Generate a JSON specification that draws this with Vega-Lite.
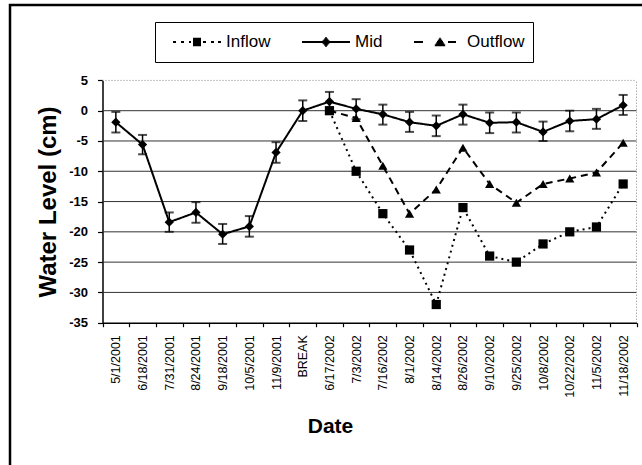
{
  "$schema": "https://vega.github.io/schema/vega-lite/v6.json",
  "width": 640,
  "height": 470,
  "autosize": "none",
  "padding": {"left": 10, "top": 5, "right": 0, "bottom": 0},
  "background": "white",
  "config": {
    "font": "Liberation Sans",
    "view": {"stroke": "black", "strokeWidth": 2.5},
    "axis": {"grid": false}
  },
  "datasets": {
    "main": [
      {"date": "5/1/2001", "series": "Mid", "value": -1.9, "lo": -3.6, "hi": -0.2},
      {"date": "6/18/2001", "series": "Mid", "value": -5.6, "lo": -7.2, "hi": -4.0},
      {"date": "7/31/2001", "series": "Mid", "value": -18.4, "lo": -20.0, "hi": -16.8},
      {"date": "8/24/2001", "series": "Mid", "value": -16.8, "lo": -18.5, "hi": -15.1},
      {"date": "9/18/2001", "series": "Mid", "value": -20.4, "lo": -22.0, "hi": -18.7},
      {"date": "10/5/2001", "series": "Mid", "value": -19.1, "lo": -20.8, "hi": -17.4},
      {"date": "11/9/2001", "series": "Mid", "value": -6.9, "lo": -8.6, "hi": -5.2},
      {"date": "BREAK", "series": "Mid", "value": 0, "lo": -1.7, "hi": 1.7},
      {"date": "6/17/2002", "series": "Mid", "value": 1.5, "lo": -0.2, "hi": 3.1},
      {"date": "7/3/2002", "series": "Mid", "value": 0.3, "lo": -1.4, "hi": 1.9},
      {"date": "7/16/2002", "series": "Mid", "value": -0.6, "lo": -2.3, "hi": 1.0},
      {"date": "8/1/2002", "series": "Mid", "value": -1.9, "lo": -3.5, "hi": -0.2},
      {"date": "8/14/2002", "series": "Mid", "value": -2.5, "lo": -4.2, "hi": -0.8},
      {"date": "8/26/2002", "series": "Mid", "value": -0.6, "lo": -2.3, "hi": 1.0},
      {"date": "9/10/2002", "series": "Mid", "value": -2.0, "lo": -3.7, "hi": -0.3},
      {"date": "9/25/2002", "series": "Mid", "value": -1.9, "lo": -3.6, "hi": -0.3},
      {"date": "10/8/2002", "series": "Mid", "value": -3.5, "lo": -5.0, "hi": -1.8},
      {"date": "10/22/2002", "series": "Mid", "value": -1.7, "lo": -3.4, "hi": 0.0},
      {"date": "11/5/2002", "series": "Mid", "value": -1.4, "lo": -3.0, "hi": 0.3},
      {"date": "11/18/2002", "series": "Mid", "value": 0.9, "lo": -0.7, "hi": 2.6},
      {"date": "6/17/2002", "series": "Inflow", "value": 0},
      {"date": "7/3/2002", "series": "Inflow", "value": -10},
      {"date": "7/16/2002", "series": "Inflow", "value": -17},
      {"date": "8/1/2002", "series": "Inflow", "value": -23},
      {"date": "8/14/2002", "series": "Inflow", "value": -32},
      {"date": "8/26/2002", "series": "Inflow", "value": -16},
      {"date": "9/10/2002", "series": "Inflow", "value": -24},
      {"date": "9/25/2002", "series": "Inflow", "value": -25},
      {"date": "10/8/2002", "series": "Inflow", "value": -22},
      {"date": "10/22/2002", "series": "Inflow", "value": -20},
      {"date": "11/5/2002", "series": "Inflow", "value": -19.2},
      {"date": "11/18/2002", "series": "Inflow", "value": -12.1},
      {"date": "6/17/2002", "series": "Outflow", "value": 0},
      {"date": "7/3/2002", "series": "Outflow", "value": -1.2},
      {"date": "7/16/2002", "series": "Outflow", "value": -9.1},
      {"date": "8/1/2002", "series": "Outflow", "value": -17},
      {"date": "8/14/2002", "series": "Outflow", "value": -13},
      {"date": "8/26/2002", "series": "Outflow", "value": -6.1},
      {"date": "9/10/2002", "series": "Outflow", "value": -12.1},
      {"date": "9/25/2002", "series": "Outflow", "value": -15.2},
      {"date": "10/8/2002", "series": "Outflow", "value": -12.1},
      {"date": "10/22/2002", "series": "Outflow", "value": -11.2},
      {"date": "11/5/2002", "series": "Outflow", "value": -10.2},
      {"date": "11/18/2002", "series": "Outflow", "value": -5.3}
    ],
    "grid": [{"v": -30}, {"v": -25}, {"v": -20}, {"v": -15}, {"v": -10}, {"v": -5}, {"v": 0}]
  },
  "layer": [
    {
      "data": {"name": "grid"},
      "mark": {"type": "rule", "color": "#333333", "strokeWidth": 1},
      "encoding": {
        "y": {"field": "v", "type": "quantitative",
              "scale": {"domain": [-35, 5], "range": [317.7, 75.4], "nice": false, "zero": false},
              "axis": {"title": "Water Level (cm)", "orient": "left", "offset": -92.5, "values": [-35, -30, -25, -20, -15, -10, -5, 0, 5], "domain": true, "domainColor": "black", "domainWidth": 1.5, "grid": false, "tickSize": 5, "tickColor": "black", "tickWidth": 1.2, "labelFontSize": 13, "labelFontWeight": "bold", "labelColor": "black", "labelPadding": 10, "labelExpr": "'' + datum.value", "titleFontSize": 24, "titleFontWeight": "bold", "titleColor": "black", "titleX": -54, "titleY": 196.5, "titleAngle": 270, "titleAlign": "center", "titleBaseline": "middle", "titleAnchor": null}},
        "x": {"datum": "5/1/2001", "type": "nominal", "bandPosition": 0,
              "scale": {"type": "band", "domain": ["5/1/2001","6/18/2001","7/31/2001","8/24/2001","9/18/2001","10/5/2001","11/9/2001","BREAK","6/17/2002","7/3/2002","7/16/2002","8/1/2002","8/14/2002","8/26/2002","9/10/2002","9/25/2002","10/8/2002","10/22/2002","11/5/2002","11/18/2002"], "range": [92.5, 626.5], "paddingInner": 0, "paddingOuter": 0},
              "axis": {"title": "Date", "orient": "bottom", "offset": -152.3, "domain": true, "domainColor": "black", "domainWidth": 1.5, "grid": false, "tickBand": "extent", "tickSize": 4, "tickColor": "black", "tickWidth": 1.2, "labelAngle": 270, "labelFontSize": 12.5, "labelPadding": 8, "labelColor": "black", "labelOverlap": false, "labelBound": false, "labelLimit": 200, "titleFontSize": 21, "titleFontWeight": "bold", "titleColor": "black", "titleX": 320, "titleY": 110, "titleAlign": "center", "titleBaseline": "alphabetic", "titleAnchor": null}},
        "x2": {"datum": "11/18/2002", "bandPosition": 1}
      }
    },
    {
      "data": {"values": [{"k": 1}]},
      "mark": {"type": "rule", "color": "#888888", "strokeWidth": 1, "strokeDash": [1, 2]},
      "encoding": {
        "y": {"datum": 5, "type": "quantitative"},
        "x": {"datum": "5/1/2001", "type": "nominal", "bandPosition": 0},
        "x2": {"datum": "11/18/2002", "bandPosition": 1}
      }
    },
    {
      "data": {"values": [{"k": 1}]},
      "mark": {"type": "rule", "color": "#888888", "strokeWidth": 1, "strokeDash": [1, 2]},
      "encoding": {
        "x": {"datum": "11/18/2002", "type": "nominal", "bandPosition": 1},
        "y": {"datum": -35, "type": "quantitative"},
        "y2": {"datum": 5}
      }
    },
    {
      "data": {"name": "main"},
      "mark": {"type": "line", "color": "black", "strokeWidth": 2},
      "encoding": {
        "x": {"field": "date", "type": "nominal"},
        "y": {"field": "value", "type": "quantitative"},
        "strokeDash": {"field": "series", "type": "nominal", "legend": null,
                       "scale": {"domain": ["Mid", "Inflow", "Outflow"], "range": [[1, 0], [2, 4], [7, 5]]}}
      }
    },
    {
      "data": {"name": "main"},
      "transform": [{"filter": "datum.series == 'Mid'"}],
      "mark": {"type": "rule", "color": "black", "strokeWidth": 1.5},
      "encoding": {
        "x": {"field": "date", "type": "nominal"},
        "y": {"field": "lo", "type": "quantitative"},
        "y2": {"field": "hi"}
      }
    },
    {
      "data": {"name": "main"},
      "transform": [{"filter": "datum.series == 'Mid'"}, {"fold": ["lo", "hi"], "as": ["end", "ev"]}],
      "mark": {"type": "tick", "color": "black", "size": 9, "thickness": 2, "orient": "horizontal"},
      "encoding": {
        "x": {"field": "date", "type": "nominal"},
        "y": {"field": "ev", "type": "quantitative"}
      }
    },
    {
      "data": {"name": "main"},
      "transform": [{"filter": "datum.series == 'Inflow'"}],
      "mark": {"type": "point", "shape": "square", "filled": true, "color": "black", "opacity": 1, "size": 85},
      "encoding": {
        "x": {"field": "date", "type": "nominal"},
        "y": {"field": "value", "type": "quantitative"}
      }
    },
    {
      "data": {"name": "main"},
      "transform": [{"filter": "datum.series == 'Outflow'"}],
      "mark": {"type": "point", "shape": "triangle-up", "filled": true, "color": "black", "opacity": 1, "size": 85},
      "encoding": {
        "x": {"field": "date", "type": "nominal"},
        "y": {"field": "value", "type": "quantitative"}
      }
    },
    {
      "data": {"name": "main"},
      "transform": [{"filter": "datum.series == 'Mid'"}],
      "mark": {"type": "point", "shape": "diamond", "filled": true, "color": "black", "opacity": 1, "size": 85},
      "encoding": {
        "x": {"field": "date", "type": "nominal"},
        "y": {"field": "value", "type": "quantitative"}
      }
    },
    {
      "data": {"name": "main"},
      "transform": [{"filter": "datum.series == 'none'"}],
      "mark": {"type": "point", "filled": false, "color": "black", "strokeWidth": 1.8, "size": 3249},
      "encoding": {
        "x": {"field": "date", "type": "nominal"},
        "y": {"field": "value", "type": "quantitative"},
        "shape": {"field": "series", "type": "nominal",
                  "scale": {"domain": ["Inflow", "Mid", "Outflow"], "range": [
                    "M-0.684,0H-0.579M-0.404,0H-0.298M-0.123,0H-0.053M0.368,0H0.474M0.649,0H0.754M0.895,0H1M0.018,-0.12H0.298M0.018,-0.08H0.298M0.018,-0.04H0.298M0.018,0H0.298M0.018,0.04H0.298M0.018,0.08H0.298M0.018,0.12H0.298",
                    "M-0.684,0H1M0.132,-0.14H0.184M0.097,-0.1H0.219M0.063,-0.06H0.253M0.028,-0.02H0.288M0.028,0.02H0.288M0.063,0.06H0.253M0.097,0.1H0.219M0.132,0.14H0.184",
                    "M-0.684,0H-0.368M0.509,0H0.79M0.202,-0.12H0.254M0.176,-0.08H0.28M0.149,-0.04H0.307M0.123,0H0.333M0.097,0.04H0.359M0.071,0.08H0.385M0.045,0.12H0.411"]},
                  "legend": {"title": null, "orient": "none", "legendX": 145, "legendY": 17, "direction": "horizontal", "columnPadding": 21, "padding": 8, "clipHeight": 24, "strokeColor": "black", "fillColor": "white", "labelFontSize": 17, "labelFont": "Liberation Sans", "labelColor": "black", "labelOffset": 4, "labelLimit": 200, "symbolSize": 3249, "symbolStrokeColor": "black", "symbolStrokeWidth": 1.8, "symbolOpacity": 1}}
      }
    }
  ]
}
